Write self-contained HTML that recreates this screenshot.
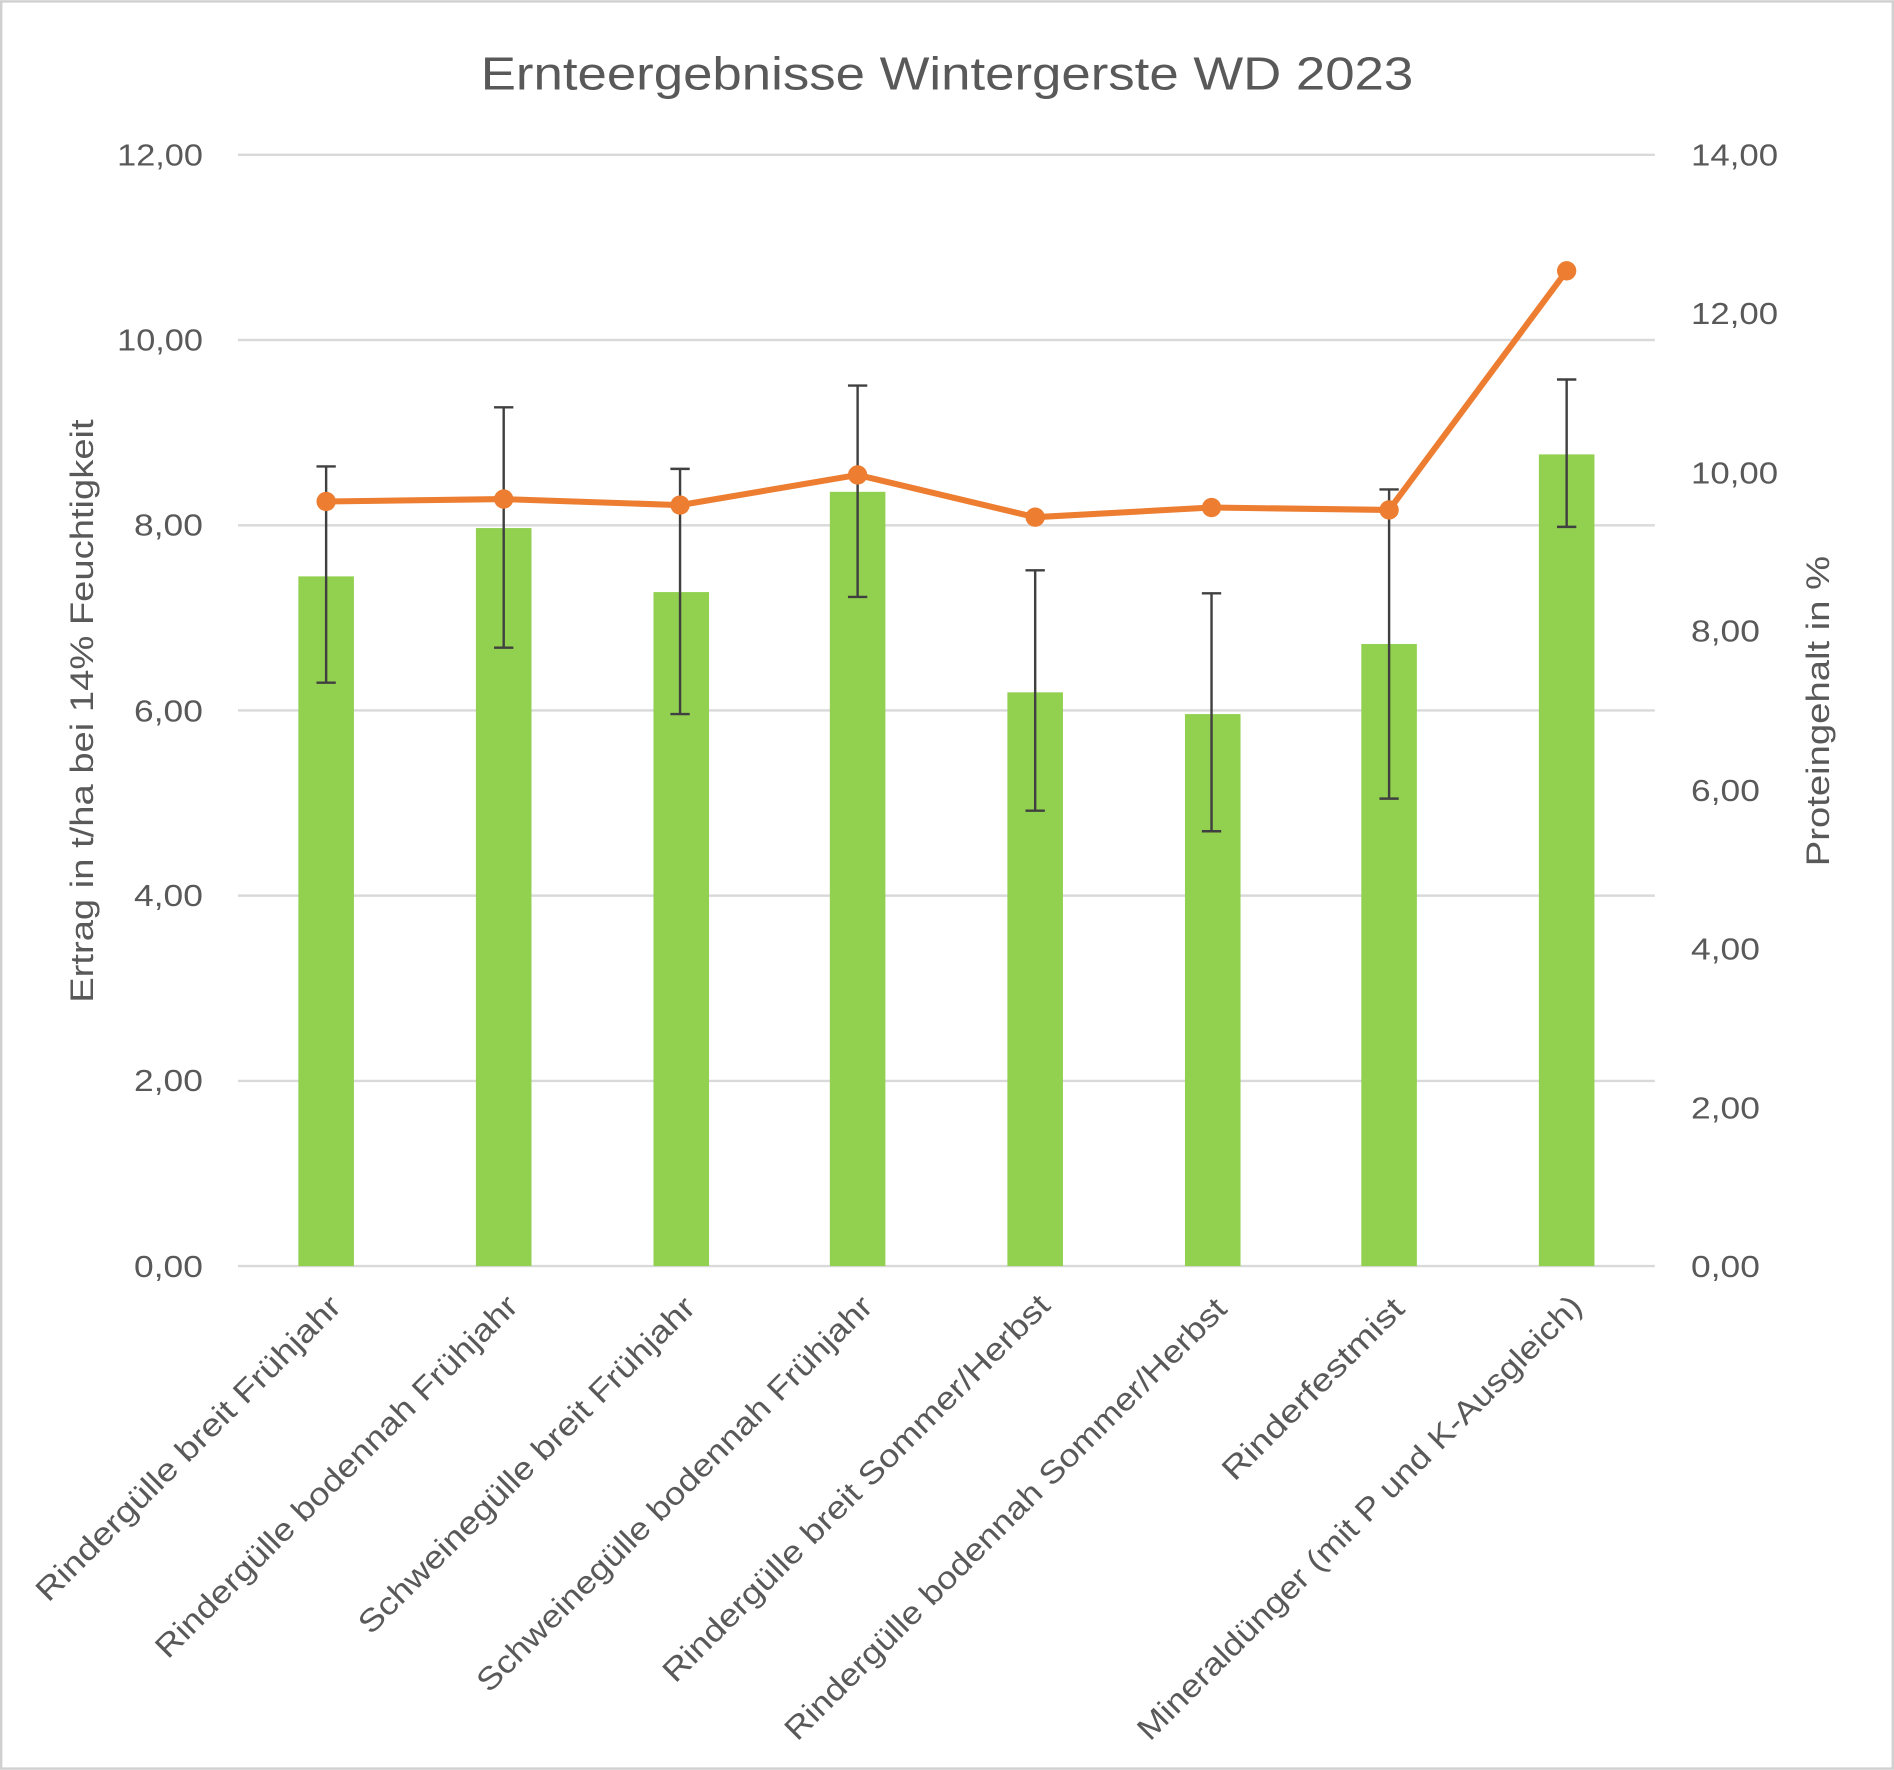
<!DOCTYPE html>
<html><head><meta charset="utf-8"><style>html,body{margin:0;padding:0;background:#fff}svg{display:block}</style></head>
<body>
<svg width="1894" height="1770" viewBox="0 0 1568 1465" xmlns="http://www.w3.org/2000/svg" font-family="'Liberation Sans', sans-serif" fill="#595959">
<rect x="1" y="1" width="1566" height="1463" fill="#fff" stroke="#d0d0d0" stroke-width="2"/>
<text x="398" y="74" font-size="38" textLength="772" lengthAdjust="spacingAndGlyphs">Ernteergebnisse Wintergerste WD 2023</text>
<g stroke="#d9d9d9" stroke-width="2">
<line x1="197" x2="1370" y1="128" y2="128"/><line x1="197" x2="1370" y1="281.3" y2="281.3"/>
<line x1="197" x2="1370" y1="434.7" y2="434.7"/><line x1="197" x2="1370" y1="588" y2="588"/>
<line x1="197" x2="1370" y1="741.3" y2="741.3"/><line x1="197" x2="1370" y1="894.7" y2="894.7"/>
<line x1="197" x2="1370" y1="1048" y2="1048"/>
</g>
<g font-size="25">
<text x="97" y="137" textLength="71" lengthAdjust="spacingAndGlyphs">12,00</text><text x="97" y="290" textLength="71" lengthAdjust="spacingAndGlyphs">10,00</text>
<text x="111" y="443" textLength="57" lengthAdjust="spacingAndGlyphs">8,00</text><text x="111" y="597" textLength="57" lengthAdjust="spacingAndGlyphs">6,00</text>
<text x="111" y="750" textLength="57" lengthAdjust="spacingAndGlyphs">4,00</text><text x="111" y="903" textLength="57" lengthAdjust="spacingAndGlyphs">2,00</text>
<text x="111" y="1057" textLength="57" lengthAdjust="spacingAndGlyphs">0,00</text>
</g>
<g font-size="25">
<text x="1400" y="137" textLength="72" lengthAdjust="spacingAndGlyphs">14,00</text><text x="1400" y="268" textLength="72" lengthAdjust="spacingAndGlyphs">12,00</text>
<text x="1400" y="400" textLength="72" lengthAdjust="spacingAndGlyphs">10,00</text><text x="1400" y="531" textLength="57" lengthAdjust="spacingAndGlyphs">8,00</text>
<text x="1400" y="663" textLength="57" lengthAdjust="spacingAndGlyphs">6,00</text><text x="1400" y="794" textLength="57" lengthAdjust="spacingAndGlyphs">4,00</text>
<text x="1400" y="926" textLength="57" lengthAdjust="spacingAndGlyphs">2,00</text><text x="1400" y="1057" textLength="57" lengthAdjust="spacingAndGlyphs">0,00</text>
</g>
<text transform="translate(77,830) rotate(-90)" font-size="27" textLength="483" lengthAdjust="spacingAndGlyphs">Ertrag in t/ha bei 14% Feuchtigkeit</text>
<text transform="translate(1514,717) rotate(-90)" font-size="27" textLength="257" lengthAdjust="spacingAndGlyphs">Proteingehalt in %</text>
<g fill="#92d050">
<rect x="247" y="477" width="46" height="571"/><rect x="394" y="437" width="46" height="611"/>
<rect x="541" y="490" width="46" height="558"/><rect x="687" y="407" width="46" height="641"/>
<rect x="834" y="573" width="46" height="475"/><rect x="981" y="591" width="46" height="457"/>
<rect x="1127" y="533" width="46" height="515"/><rect x="1274" y="376" width="46" height="672"/>
</g>
<g stroke="#404040" stroke-width="2">
<path d="M270 386V565M262 386H278M262 565H278"/>
<path d="M417 337V536M409 337H425M409 536H425"/>
<path d="M563 388V591M555 388H571M555 591H571"/>
<path d="M710 319V494M702 319H718M702 494H718"/>
<path d="M857 472V671M849 472H865M849 671H865"/>
<path d="M1003 491V688M995 491H1011M995 688H1011"/>
<path d="M1150 405V661M1142 405H1158M1142 661H1158"/>
<path d="M1297 314V436M1289 314H1305M1289 436H1305"/>
</g>
<polyline fill="none" stroke="#ed7d31" stroke-width="5" stroke-linejoin="round" points="270,415 417,413 563,418 710,393 857,428 1003,420 1150,422 1297,224"/>
<g fill="#ed7d31">
<circle cx="270" cy="415" r="8"/><circle cx="417" cy="413" r="8"/><circle cx="563" cy="418" r="8"/><circle cx="710" cy="393" r="8"/>
<circle cx="857" cy="428" r="8"/><circle cx="1003" cy="420" r="8"/><circle cx="1150" cy="422" r="8"/><circle cx="1297" cy="224" r="8"/>
</g>
<g font-size="26">
<text transform="translate(40,1327) rotate(-45)" textLength="345" lengthAdjust="spacingAndGlyphs">Rindergülle breit Frühjahr</text>
<text transform="translate(139,1374) rotate(-45)" textLength="412" lengthAdjust="spacingAndGlyphs">Rindergülle bodennah Frühjahr</text>
<text transform="translate(307,1354) rotate(-45)" textLength="382" lengthAdjust="spacingAndGlyphs">Schweinegülle breit Frühjahr</text>
<text transform="translate(405,1402) rotate(-45)" textLength="451" lengthAdjust="spacingAndGlyphs">Schweinegülle bodennah Frühjahr</text>
<text transform="translate(559,1394) rotate(-45)" textLength="441" lengthAdjust="spacingAndGlyphs">Rindergülle breit Sommer/Herbst</text>
<text transform="translate(660,1442) rotate(-45)" textLength="505" lengthAdjust="spacingAndGlyphs">Rindergülle bodennah Sommer/Herbst</text>
<text transform="translate(1022,1227) rotate(-45)" textLength="201" lengthAdjust="spacingAndGlyphs">Rinderfestmist</text>
<text transform="translate(952,1442) rotate(-45)" textLength="508" lengthAdjust="spacingAndGlyphs">Mineraldünger (mit P und K-Ausgleich)</text>
</g>
</svg>
</body></html>
